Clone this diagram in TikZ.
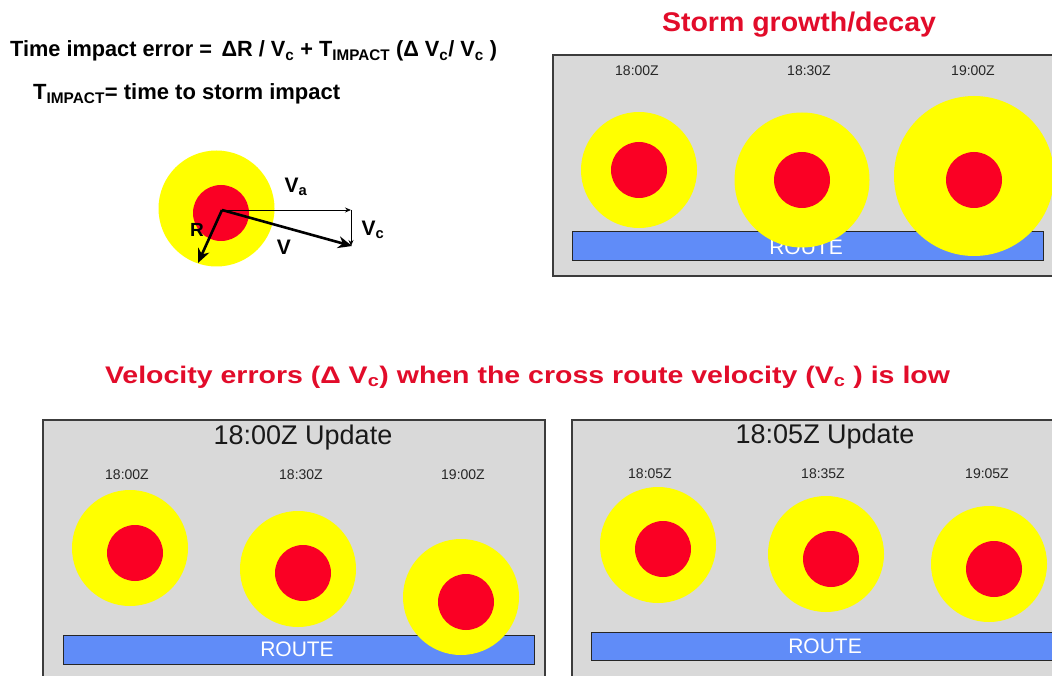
\documentclass[tikz,border=0pt]{standalone}
\usepackage{fontspec}
\setmainfont{Liberation Sans}
\usepackage{graphicx}
\usetikzlibrary{arrows.meta}
\definecolor{stormyellow}{RGB}{255,255,0}
\definecolor{stormred}{RGB}{250,0,36}
\definecolor{titlered}{RGB}{226,12,42}
\definecolor{routeblue}{RGB}{96,140,248}
\definecolor{panelgray}{RGB}{217,217,217}
\definecolor{bordergray}{RGB}{60,60,60}
\newsavebox\fitbox
\newcommand\fitx[2]{\sbox\fitbox{#2}\scalebox{\fpeval{(#1)/(\the\wd\fitbox)}}[1]{\usebox\fitbox}}
\begin{document}
\begin{tikzpicture}[x=1pt,y=-1pt,
  panel/.style={fill=panelgray,draw=bordergray,line width=1.5pt},
  routebar/.style={fill=routeblue,draw=black!85,line width=1pt},
  routetext/.style={text=white,font=\fontsize{21}{21}\selectfont,inner sep=0pt},
  timelabel/.style={text=black!85,font=\fontsize{14}{14}\selectfont,inner sep=0pt},
  updatetitle/.style={text=black!90,font=\fontsize{27}{27}\selectfont,inner sep=0pt,anchor=base},
  outerdisc/.style={circle,fill=stormyellow,inner sep=0pt,minimum size=#1},
  innerdisc/.style={circle,fill=stormred,inner sep=0pt,minimum size=#1},
  bigtitle/.style={text=titlered,inner sep=0pt,anchor=base},
  formulatext/.style={anchor=base west,inner sep=0pt,font=\bfseries\fontsize{22}{22}\selectfont},
  thinarrow/.style={line width=0.8pt,-{Stealth[length=6pt,width=5pt]}},
  thickarrow/.style={line width=2.6pt,-{Stealth[length=14pt,width=12pt]}},
  veclabel/.style={font=\bfseries\fontsize{21}{21}\selectfont,inner sep=0pt}
]
\useasboundingbox (0,0) rectangle (1052,676);
\clip (0,0) rectangle (1052,676);
\fill[white] (0,0) rectangle (1052,676);

% ---------- formula text ----------
\node[formulatext] (formula) at (10,57)
  {\fitx{487pt}{Time impact error = \,ΔR / V\textsubscript{c} + T\textsubscript{IMPACT} (Δ V\textsubscript{c}/ V\textsubscript{c} )}};
\node[formulatext] (timpact) at (33,100)
  {\fitx{307pt}{T\textsubscript{IMPACT}= time to storm impact}};

% ---------- vector diagram ----------
\node[outerdisc=116pt] (vo) at (216.5,208.5) {};
\node[innerdisc=56pt] (vi) at (221,213) {};
\coordinate (org) at (222,210);
\coordinate (vacorner) at (351,210);
\coordinate (vtip) at (352,246);
\coordinate (rtip) at (198,263);
\draw[thinarrow] (org) -- (vacorner);
\draw[thinarrow] (vacorner) -- (351,246) coordinate (vcend);
\draw[thickarrow] (org) -- (vtip);
\draw[thickarrow] (org) -- (rtip);
\node[veclabel] (lva) at (296,187) {V\textsubscript{a}};
\node[veclabel] (lvc) at (373,230) {V\textsubscript{c}};
\node[veclabel] (lv) at (284,247) {V};
\node[veclabel,font=\bfseries\fontsize{19}{19}\selectfont] (lr) at (197,230) {R};

% ---------- storm growth/decay ----------
\node[bigtitle,font=\bfseries\fontsize{27}{27}\selectfont] (sgtitle) at (799,32) {\fitx{274pt}{Storm growth/decay}};
\draw[panel] (553,55) rectangle (1070,276);
\node[timelabel] (ta1) at (637,71) {18:00Z};
\node[timelabel] (ta2) at (809,71) {18:30Z};
\node[timelabel] (ta3) at (973,71) {19:00Z};
\draw[routebar] (572,232) rectangle (1043,261);
\node[routetext] (rta) at (806,247) {ROUTE};
\node[outerdisc=116pt] (a1o) at (639,170) {};
\node[innerdisc=56pt] (a1i) at (639,170) {};
\node[outerdisc=135pt] (a2o) at (802,180) {};
\node[innerdisc=56pt] (a2i) at (802,180) {};
\node[outerdisc=160pt] (a3o) at (974,176) {};
\node[innerdisc=56pt] (a3i) at (974,180) {};

% ---------- middle title ----------
\node[bigtitle,font=\bfseries\fontsize{24}{24}\selectfont] (veltitle) at (527.5,383)
  {\fitx{845pt}{Velocity errors (Δ V\textsubscript{c}) when the cross route velocity (V\textsubscript{c} ) is low}};

% ---------- 18:00Z update ----------
\draw[panel] (43,420) rectangle (545,690);
\node[updatetitle] (ub) at (303,444) {18:00Z Update};
\node[timelabel] (tb1) at (127,475) {18:00Z};
\node[timelabel] (tb2) at (301,475) {18:30Z};
\node[timelabel] (tb3) at (463,475) {19:00Z};
\draw[routebar] (63,635) rectangle (534,664);
\node[routetext] (rtb) at (297,649) {ROUTE};
\node[outerdisc=116pt] (b1o) at (130,548) {};
\node[innerdisc=56pt] (b1i) at (135,553) {};
\node[outerdisc=116pt] (b2o) at (298,569) {};
\node[innerdisc=56pt] (b2i) at (303,573) {};
\node[outerdisc=116pt] (b3o) at (461,597) {};
\node[innerdisc=56pt] (b3i) at (466,602) {};

% ---------- 18:05Z update ----------
\draw[panel] (572,420) rectangle (1070,690);
\node[updatetitle] (uc) at (825,443) {18:05Z Update};
\node[timelabel] (tc1) at (650,474) {18:05Z};
\node[timelabel] (tc2) at (823,474) {18:35Z};
\node[timelabel] (tc3) at (987,474) {19:05Z};
\draw[routebar] (591,632) rectangle (1070,660);
\node[routetext] (rtc) at (825,646) {ROUTE};
\node[outerdisc=116pt] (c1o) at (658,545) {};
\node[innerdisc=56pt] (c1i) at (663,549) {};
\node[outerdisc=116pt] (c2o) at (826,554) {};
\node[innerdisc=56pt] (c2i) at (831,559) {};
\node[outerdisc=116pt] (c3o) at (989,564) {};
\node[innerdisc=56pt] (c3i) at (994,569) {};
\end{tikzpicture}
\end{document}
